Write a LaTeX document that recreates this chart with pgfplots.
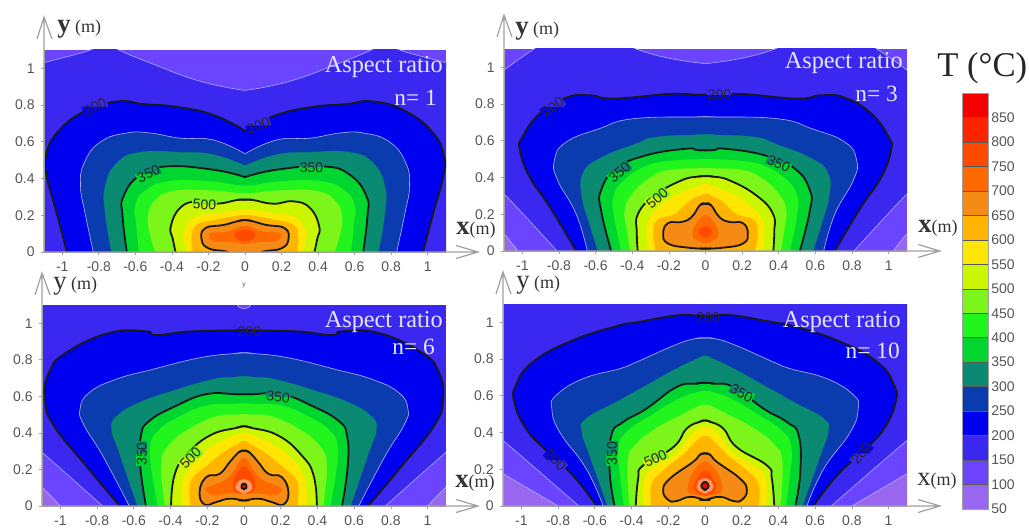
\documentclass[border=0pt]{standalone}
\usepackage{fontspec}
\setmainfont{Liberation Serif}
\newfontfamily\sansf{Liberation Sans}
\usepackage{pgfplots}
\pgfplotsset{compat=1.18}
\definecolor{c50}{HTML}{9966F0}\definecolor{c100}{HTML}{6A44FF}\definecolor{c150}{HTML}{3A28F0}
\definecolor{c200}{HTML}{0000F0}\definecolor{c250}{HTML}{0A3CB0}\definecolor{c300}{HTML}{0A8A70}
\definecolor{c350}{HTML}{00D530}\definecolor{c400}{HTML}{22F51E}\definecolor{c450}{HTML}{7CF51A}
\definecolor{c500}{HTML}{CCF500}\definecolor{c550}{HTML}{FFE600}\definecolor{c600}{HTML}{FFB400}
\definecolor{c650}{HTML}{F58A14}\definecolor{c700}{HTML}{FF6A00}\definecolor{c750}{HTML}{FF4A00}
\definecolor{c800}{HTML}{FF2400}\definecolor{c850}{HTML}{F80000}
\definecolor{txt}{HTML}{555555}\definecolor{axl}{HTML}{A0A0A0}\definecolor{lab}{HTML}{333333}
\definecolor{peach}{HTML}{FF9A60}
\tikzset{blk/.style={draw=black!90,line width=1.35pt},lit/.style={draw=white!70!blue,line width=.45pt},nol/.style={draw=none}}
\newcommand\lv[3]{%
\addplot[fill=#1,draw=#1,line width=.2pt,smooth,tension=.8] table[row sep=\\,header=false,x index=0,y index=1]{#3}\closedcycle;
\addplot[fill=#1,draw=#1,line width=.2pt,smooth,tension=.8] table[row sep=\\,header=false,x expr=-\thisrowno{0},y index=1]{#3}\closedcycle;
\addplot[#2,smooth,tension=.8] table[row sep=\\,header=false,x index=0,y index=1]{#3};
\addplot[#2,smooth,tension=.8] table[row sep=\\,header=false,x expr=-\thisrowno{0},y index=1]{#3};
}
\newcommand\bl[3]{%
\addplot[fill=#1,draw=#1,line width=.2pt,smooth,tension=.8] table[row sep=\\,header=false,x index=0,y index=1]{#3};
\addplot[fill=#1,draw=#1,line width=.2pt,smooth,tension=.8] table[row sep=\\,header=false,x expr=-\thisrowno{0},y index=1]{#3};
\addplot[#2,smooth,tension=.8] table[row sep=\\,header=false,x index=0,y index=1]{#3};
\addplot[#2,smooth,tension=.8] table[row sep=\\,header=false,x expr=-\thisrowno{0},y index=1]{#3};
}
\newcommand\clab[6]{\node[font=\sansf\fontsize{10.5}{11}\selectfont,text=black!85,inner sep=.6pt,rotate=#3,
 path picture={\fill[#4](path picture bounding box.north west)--(path picture bounding box.north east)--(path picture bounding box.east)--(path picture bounding box.west)--cycle;
 \fill[#5](path picture bounding box.south west)--(path picture bounding box.south east)--(path picture bounding box.east)--(path picture bounding box.west)--cycle;}]
 at (axis cs:#1,#2) {#6};}
\newcommand\plab[4]{\node[font=\sansf\fontsize{10.5}{11}\selectfont,text=black!85,inner sep=.6pt,rotate=#3] at (axis cs:#1,#2) {#4};}
\pgfplotsset{panel/.style={scale only axis,anchor=south west,xmin=-1.1,xmax=1.1,ymin=0,ymax=1.1,
 axis x line*=bottom,axis y line*=left,axis on top,clip=true,
 axis background/.style={fill=c100},
 xtick={-1,-0.8,-0.6,-0.4,-0.2,0,0.2,0.4,0.6,0.8,1},ytick={0,0.2,0.4,0.6,0.8,1},
 tick align=outside,major tick length=2.5pt,tick style={axl,line width=.5pt},axis line style={axl,line width=.6pt,-},
 /pgf/number format/assume math mode=true,/pgf/number format/fixed,
 ticklabel style={font=\sansf\fontsize{10.5}{12}\selectfont,text=txt},
 xticklabel style={yshift=-1.5pt},yticklabel style={xshift=-1pt}}}
\newcommand\arrows[6]{%
\draw[axl,line width=.9pt] (#1,#2)--(#1,#3) (#1-7,#3+22)--(#1,#3)--(#1+8,#3+22);
\draw[axl,line width=.9pt] (#4,#2)--(#5,#2) (#5-22,#2-6.5)--(#5,#2)--(#5-22,#2+6.5);}
\newcommand\ylab[3]{\node[anchor=base west,inner sep=0,text=lab] at (#1,#2) {\fontsize{20}{20}\selectfont#3y\,\fontsize{13.5}{14}\selectfont\mdseries(m)};}
\newcommand\xlab[3]{\node[anchor=base west,inner sep=0,text=lab] at (#1,#2) {\fontsize{20}{20}\selectfont#3x\fontsize{13.5}{14}\selectfont\mdseries(m)};}
\newcommand\asp[5]{\node[anchor=east,inner sep=0,text=white!90!blue,font=\fontsize{18.2}{20}\selectfont] at (#1,#2) {Aspect ratio};
\node[anchor=east,inner sep=0,text=white!90!blue,font=\fontsize{17.5}{20}\selectfont] at (#3,#4) {n= #5};}
\begin{document}
\begin{tikzpicture}[x=.75pt,y=-.75pt]
\path[use as bounding box] (0,0) rectangle (1029,531);
% ---------- n=1
\begin{axis}[panel,at={(33pt,-189pt)},width=301.5pt,height=151.5pt]
\lv{c150}{lit}{0 .88\\ .246 .93\\ .52 1.03\\ .69 1.1\\ .76 1.14\\ .8 1.14\\ .847 1.1\\ 1.09 1.033\\ 1.15 1.01\\ 1.15 0\\}
\lv{c200}{blk}{0 .66\\ .17 .745\\ .37 .79\\ .55 .805\\ .70 .82\\ .88 .766\\ 1.03 .648\\ 1.09 .52\\ 1.085 .41\\ 1.03 .21\\ .975 0\\}
\lv{c250}{lit}{0 .535\\ .173 .61\\ .355 .62\\ .52 .648\\ .647 .648\\ .79 .60\\ .88 .485\\ .9 .357\\ .875 .21\\ .83 0\\}
\lv{c300}{nol}{0 .47\\ .173 .53\\ .355 .543\\ .574 .543\\ .70 .485\\ .765 .357\\ .765 .21\\ .73 0\\}
\lv{c350}{blk}{0 .408\\ .173 .448\\ .428 .466\\ .574 .42\\ .665 .303\\ .67 .194\\ .647 0\\}
\lv{c400}{nol}{-.04 .362\\ 0 .36\\ .04 .362\\ .2 .385\\ .42 .385\\ .55 .33\\ .60 .25\\ .595 .15\\ .58 0\\}
\lv{c450}{nol}{-.04 .32\\ 0 .32\\ .04 .32\\ .2 .335\\ .4 .33\\ .5 .27\\ .53 .19\\ .52 .10\\ .49 0\\}
\lv{c500}{blk}{-.04 .284\\ 0 .285\\ .04 .284\\ .155 .263\\ .264 .276\\ .355 .24\\ .406 .14\\ .395 .07\\ .38 0\\}
\lv{c550}{nol}{-.04 .228\\ 0 .23\\ .04 .228\\ .155 .21\\ .27 .19\\ .33 .12\\ .33 .06\\ .32 0\\}
\lv{c600}{nol}{-.04 .197\\ 0 .2\\ .04 .197\\ .16 .175\\ .26 .15\\ .29 .09\\ .285 0\\}
\lv{c650}{blk}{-.04 .168\\ 0 .174\\ .04 .168\\ .118 .147\\ .219 .129\\ .237 .065\\ .2 .02\\ .12 .006\\ .09 0\\}
\bl{c700}{nol}{-.03 .135\\ 0 .14\\ .03 .135\\ .1 .11\\ .18 .105\\ .195 .085\\ .17 .06\\ .08 .055\\ 0 .045\\ -.03 .046\\}
\bl{c750}{nol}{-.02 .118\\ 0 .122\\ .02 .118\\ .05 .105\\ .055 .085\\ .03 .065\\ 0 .06\\ -.02 .062\\}
\clab{-.82}{.79}{25}{c150}{c200}{200}
\clab{.073}{.688}{20}{c150}{c200}{200}
\clab{-.528}{.425}{25}{c300}{c350}{350}
\clab{.364}{.461}{0}{c300}{c350}{350}
\clab{-.222}{.258}{-3}{c450}{c500}{500}
\end{axis}
\arrows{44}{252}{17}{44}{478}{}
\ylab{57}{33}{\bfseries}\xlab{456}{235}{\bfseries}\asp{443}{67}{437}{98}{1}
% ---------- n=3
\begin{axis}[panel,at={(378pt,-188.25pt)},width=302.25pt,height=151.5pt]
\lv{c150}{lit}{0 1.02\\ .2 1.05\\ .38 1.1\\ .46 1.14\\ .85 1.14\\ .935 1.1\\ 1.1 .984\\ 1.15 .93\\ 1.15 .35\\ 1.1 .312\\ .81 0\\}
\lv{c50}{lit}{1.15 .13\\ 1.1 .094\\ 1.025 0\\}
\lv{c200}{blk}{-.05 .851\\ 0 .851\\ .05 .851\\ .2 .855\\ .5 .83\\ .63 .848\\ .76 .835\\ .905 .748\\ 1.0 .62\\ 1.013 .548\\ .96 .403\\ .85 .24\\ .705 0\\}
\lv{c250}{lit}{-.05 .73\\ 0 .73\\ .05 .73\\ .397 .72\\ .58 .666\\ .761 .593\\ .825 .494\\ .807 .385\\ .707 .203\\ .645 0\\}
\lv{c300}{nol}{-.05 .632\\ 0 .633\\ .05 .632\\ .27 .62\\ .38 .584\\ .58 .503\\ .67 .42\\ .674 .294\\ .634 .15\\ .587 0\\}
\lv{c350}{blk}{-.05 .55\\ 0 .548\\ .05 .55\\ .105 .557\\ .324 .521\\ .488 .448\\ .57 .33\\ .57 .221\\ .515 0\\}
\lv{c400}{nol}{-.04 .498\\ 0 .50\\ .04 .498\\ .2 .49\\ .33 .46\\ .45 .38\\ .50 .30\\ .5 .2\\ .46 0\\}
\lv{c450}{nol}{-.04 .449\\ 0 .45\\ .04 .449\\ .2 .44\\ .3 .40\\ .4 .31\\ .44 .22\\ .43 .12\\ .41 0\\}
\lv{c500}{blk}{-.04 .405\\ 0 .408\\ .04 .405\\ .13 .385\\ .277 .303\\ .368 .203\\ .375 .1\\ .37 0\\}
\lv{c550}{nol}{-.03 .357\\ 0 .365\\ .03 .357\\ .1 .33\\ .2 .28\\ .29 .2\\ .32 .12\\ .31 0\\}
\lv{c600}{nol}{-.03 .30\\ 0 .31\\ .03 .30\\ .09 .27\\ .17 .2\\ .26 .17\\ .285 .1\\ .27 0\\}
\bl{c650}{blk}{-.03 .25\\ 0 .258\\ .03 .25\\ .076 .185\\ .131 .158\\ .204 .152\\ .231 .094\\ .204 .04\\ .095 .018\\ 0 .013\\ -.03 .0135\\}
\bl{c700}{nol}{-.02 .185\\ 0 .194\\ .02 .185\\ .05 .15\\ .07 .1\\ .05 .06\\ 0 .045\\ -.02 .047\\}
\bl{c750}{nol}{-.01 .133\\ 0 .135\\ .01 .133\\ .03 .12\\ .035 .1\\ .02 .08\\ 0 .075\\ -.01 .076\\}
\clab{-.834}{.784}{35}{c150}{c200}{200}
\clab{.076}{.851}{0}{c150}{c200}{200}
\clab{-.47}{.43}{40}{c300}{c350}{350}
\clab{.40}{.475}{-25}{c300}{c350}{350}
\clab{-.264}{.289}{40}{c450}{c500}{500}
\end{axis}
\arrows{504}{251}{15}{504}{940}{}
\ylab{515}{35}{\bfseries}\xlab{918}{233}{\bfseries}\asp{903}{63}{898}{94}{3}
% ---------- n=6
\begin{axis}[panel,at={(31.5pt,-379.5pt)},width=303pt,height=150.75pt]
\lv{c150}{lit}{0 1.08\\ .03 1.09\\ .05 1.12\\ .1 1.14\\ 1.15 1.14\\ 1.15 .33\\ 1.1 .294\\ .77 0\\}
\lv{c50}{lit}{1.15 .14\\ 1.1 .103\\ 1.0 0\\}
\lv{c200}{blk}{-.05 .961\\ 0 .962\\ .05 .961\\ .3 .955\\ .479 .935\\ .534 .956\\ .734 .947\\ .97 .838\\ 1.062 .73\\ 1.084 .584\\ 1.035 .439\\ .861 .221\\ .676 0\\}
\lv{c250}{lit}{-.05 .835\\ 0 .838\\ .05 .835\\ .242 .811\\ .497 .748\\ .698 .693\\ .843 .62\\ .893 .53\\ .87 .44\\ .77 .276\\ .625 0\\}
\lv{c300}{nol}{-.05 .705\\ 0 .708\\ .05 .705\\ .17 .693\\ .388 .63\\ .57 .566\\ .689 .494\\ .721 .421\\ .68 .294\\ .58 0\\}
\lv{c350}{blk}{-.05 .612\\ 0 .612\\ .05 .612\\ .206 .612\\ .37 .548\\ .515 .466\\ .561 .385\\ .565 .221\\ .534 0\\}
\lv{c400}{nol}{-.04 .558\\ 0 .56\\ .04 .558\\ .2 .55\\ .35 .49\\ .47 .41\\ .51 .32\\ .50 .18\\ .47 0\\}
\lv{c450}{nol}{-.04 .498\\ 0 .50\\ .04 .498\\ .15 .49\\ .3 .42\\ .41 .33\\ .45 .22\\ .43 0\\}
\lv{c500}{blk}{-.04 .428\\ 0 .436\\ .04 .428\\ .188 .385\\ .315 .276\\ .379 .167\\ .397 0\\}
\lv{c550}{nol}{-.03 .392\\ 0 .40\\ .03 .392\\ .13 .35\\ .25 .27\\ .32 .17\\ .34 .08\\ .34 0\\}
\lv{c600}{nol}{-.03 .34\\ 0 .355\\ .03 .34\\ .1 .30\\ .19 .23\\ .28 .15\\ .295 .08\\ .29 0\\}
\bl{c650}{blk}{-.03 .293\\ 0 .303\\ .03 .293\\ .078 .24\\ .133 .176\\ .206 .158\\ .242 .076\\ .215 .008\\ .15 .022\\ .078 .04\\ 0 .03\\ -.03 .032\\}
\bl{c700}{nol}{-.02 .25\\ 0 .26\\ .02 .25\\ .09 .15\\ .19 .105\\ .2 .08\\ .16 .06\\ .08 .07\\ 0 .07\\ -.02 .07\\}
\bl{c750}{nol}{-.02 .205\\ 0 .215\\ .02 .205\\ .05 .16\\ .06 .12\\ .05 .08\\ 0 .07\\ -.02 .071\\}
\bl{peach}{nol}{-.01 .144\\ 0 .145\\ .01 .144\\ .035 .13\\ .045 .107\\ .035 .085\\ 0 .07\\ -.01 .071\\}
\bl{c850}{blk}{-.005 .1215\\ 0 .122\\ .005 .1215\\ .012 .116\\ .014 .107\\ .012 .098\\ 0 .092\\ -.005 .0925\\}
\plab{.03}{.953}{0}{200}
\clab{.186}{.597}{-5}{c300}{c350}{350}
\clab{-.557}{.285}{90}{c300}{c350}{350}
\clab{-.291}{.261}{45}{c450}{c500}{500}
\end{axis}
\arrows{42}{506}{273}{42}{478}{}
\ylab{53}{290}{}\xlab{455}{487}{\bfseries}\asp{443}{322}{435}{347}{6}
\node[font=\sansf\fontsize{5}{5}\selectfont,text=txt] at (244,285) {y};
% ---------- n=10
\begin{axis}[panel,at={(377.25pt,-379.5pt)},width=303pt,height=151.5pt]
\lv{c150}{lit}{-.02 1.14\\ 1.15 1.14\\ 1.15 .39\\ 1.1 .357\\ .687 0\\}
\lv{c50}{lit}{1.15 .21\\ 1.1 .176\\ .8 0\\}
\lv{c200}{blk}{-.05 1.037\\ 0 1.036\\ .05 1.037\\ .155 1.038\\ .373 1.0\\ .464 .984\\ .72 .902\\ .938 .784\\ 1.03 .657\\ 1.038 .566\\ .975 .421\\ .856 .294\\ .72 .167\\ .59 0\\}
\lv{c250}{lit}{-.05 .912\\ 0 .915\\ .05 .912\\ .155 .88\\ .373 .784\\ .464 .748\\ .665 .693\\ .81 .603\\ .834 .53\\ .792 .403\\ .647 .203\\ .555 0\\}
\lv{c300}{nol}{-.03 .807\\ 0 .817\\ .03 .807\\ .155 .748\\ .319 .657\\ .483 .566\\ .647 .475\\ .67 .403\\ .628 .276\\ .53 0\\}
\lv{c350}{blk}{-.05 .666\\ 0 .671\\ .05 .666\\ .155 .648\\ .319 .53\\ .446 .457\\ .51 .385\\ .519 .185\\ .492 0\\}
\lv{c400}{nol}{-.04 .62\\ 0 .625\\ .04 .62\\ .15 .58\\ .3 .49\\ .42 .41\\ .47 .32\\ .46 .15\\ .44 0\\}
\lv{c450}{nol}{-.04 .54\\ 0 .55\\ .04 .54\\ .12 .50\\ .27 .42\\ .38 .33\\ .42 .24\\ .41 0\\}
\lv{c500}{blk}{-.03 .458\\ 0 .466\\ .03 .458\\ .1 .421\\ .173 .32\\ .337 .221\\ .364 .149\\ .377 0\\}
\lv{c550}{nol}{-.03 .42\\ 0 .43\\ .03 .42\\ .08 .38\\ .15 .29\\ .25 .23\\ .33 .15\\ .33 0\\}
\lv{c600}{nol}{-.03 .368\\ 0 .38\\ .03 .368\\ .07 .33\\ .13 .27\\ .22 .2\\ .29 .12\\ .29 0\\}
\bl{c650}{blk}{-.03 .278\\ 0 .287\\ .03 .278\\ .064 .241\\ .19 .15\\ .228 .087\\ .2 .033\\ .155 .027\\ .082 .05\\ 0 .033\\ -.03 .036\\}
\bl{c700}{nol}{-.02 .232\\ 0 .24\\ .02 .232\\ .06 .19\\ .09 .12\\ .08 .07\\ 0 .06\\ -.02 .061\\}
\bl{c750}{nol}{-.02 .183\\ 0 .19\\ .02 .183\\ .04 .15\\ .06 .11\\ .04 .07\\ 0 .06\\ -.02 .061\\}
\bl{peach}{nol}{-.01 .149\\ 0 .15\\ .01 .149\\ .035 .135\\ .045 .109\\ .035 .085\\ 0 .07\\ -.01 .071\\}
\bl{c850}{blk}{-.008 .129\\ 0 .13\\ .008 .129\\ .016 .12\\ .02 .109\\ .016 .098\\ 0 .088\\ -.008 .089\\}
\plab{.018}{1.025}{0}{200}
\clab{-.814}{.249}{-45}{c200}{c150}{200}
\clab{.852}{.285}{50}{c200}{c150}{200}
\clab{.2}{.615}{-30}{c300}{c350}{350}
\clab{-.506}{.285}{90}{c300}{c350}{350}
\clab{-.27}{.258}{25}{c450}{c500}{500}
\end{axis}
\arrows{503}{506}{272}{503}{940}{}
\ylab{516}{289}{}\xlab{917}{485}{}\asp{901}{322}{900}{351}{10}
% ---------- colour bar
\begin{axis}[scale only axis,anchor=south west,at={(721.5pt,-381.75pt)},width=19.5pt,height=312pt,
 xmin=0,xmax=1,ymin=50,ymax=900,xtick=\empty,ytick={50,100,150,200,250,300,350,400,450,500,550,600,650,700,750,800,850},
 yticklabel pos=right,major tick length=0pt,axis line style={axl,line width=.6pt},axis on top,
 /pgf/number format/assume math mode=true,/pgf/number format/fixed,
 ticklabel style={font=\sansf\fontsize{10.5}{12}\selectfont,text=txt},yticklabel style={xshift=-1pt}]
\addplot[fill=c850,draw=black!65,line width=.4pt] coordinates {(0,900)(1,900)} \closedcycle;
\addplot[fill=c800,draw=black!65,line width=.4pt] coordinates {(0,850)(1,850)} \closedcycle;
\addplot[fill=c750,draw=black!65,line width=.4pt] coordinates {(0,800)(1,800)} \closedcycle;
\addplot[fill=c700,draw=black!65,line width=.4pt] coordinates {(0,750)(1,750)} \closedcycle;
\addplot[fill=c650,draw=black!65,line width=.4pt] coordinates {(0,700)(1,700)} \closedcycle;
\addplot[fill=c600,draw=black!65,line width=.4pt] coordinates {(0,650)(1,650)} \closedcycle;
\addplot[fill=c550,draw=black!65,line width=.4pt] coordinates {(0,600)(1,600)} \closedcycle;
\addplot[fill=c500,draw=black!65,line width=.4pt] coordinates {(0,550)(1,550)} \closedcycle;
\addplot[fill=c450,draw=black!65,line width=.4pt] coordinates {(0,500)(1,500)} \closedcycle;
\addplot[fill=c400,draw=black!65,line width=.4pt] coordinates {(0,450)(1,450)} \closedcycle;
\addplot[fill=c350,draw=black!65,line width=.4pt] coordinates {(0,400)(1,400)} \closedcycle;
\addplot[fill=c300,draw=black!65,line width=.4pt] coordinates {(0,350)(1,350)} \closedcycle;
\addplot[fill=c250,draw=black!65,line width=.4pt] coordinates {(0,300)(1,300)} \closedcycle;
\addplot[fill=c200,draw=black!65,line width=.4pt] coordinates {(0,250)(1,250)} \closedcycle;
\addplot[fill=c150,draw=black!65,line width=.4pt] coordinates {(0,200)(1,200)} \closedcycle;
\addplot[fill=c100,draw=black!65,line width=.4pt] coordinates {(0,150)(1,150)} \closedcycle;
\addplot[fill=c50,draw=black!65,line width=.4pt] coordinates {(0,100)(1,100)} \closedcycle;
\end{axis}
\node[anchor=base west,inner sep=0,text=black!85,font=\fontsize{26}{28}\selectfont] at (937,77) {T (°C)};
\end{tikzpicture}
\end{document}
